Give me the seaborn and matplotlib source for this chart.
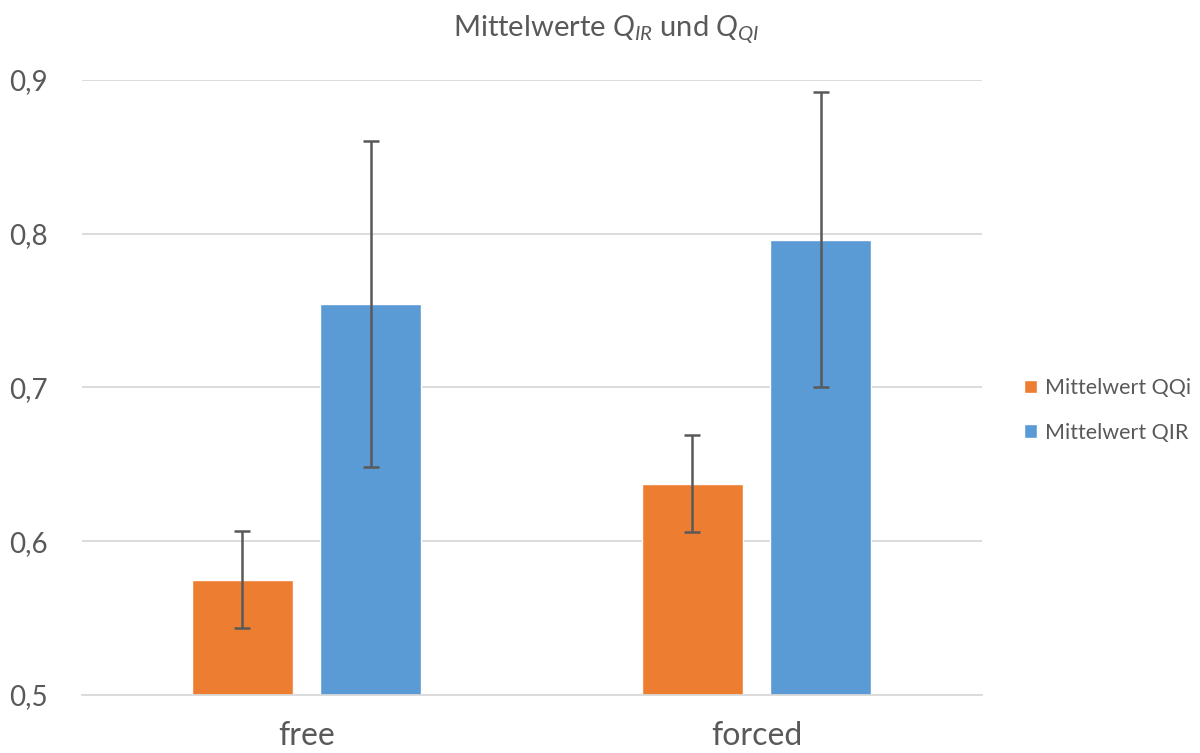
import pandas as pd
import matplotlib
matplotlib.use("Agg")
import matplotlib.pyplot as plt
import seaborn as sns
from matplotlib.ticker import FuncFormatter, FixedLocator

# --- data ---
conditions = ["free", "forced"]
series_names = ["Mittelwert QQi", "Mittelwert QIR"]
mean_qqi = [0.575, 0.6375]
mean_qir = [0.754, 0.796]
err_qqi = [0.0315, 0.0315]
err_qir = [0.106, 0.096]
y_ticks = [0.5, 0.6, 0.7, 0.8, 0.9]

colors = ["#ED7D31", "#5B9BD5"]
text_grey = "#595959"

df = pd.DataFrame({
    "condition": conditions * 2,
    "series": [series_names[0]] * 2 + [series_names[1]] * 2,
    "value": mean_qqi + mean_qir,
    "err": err_qqi + err_qir,
})

sns.set_theme(style="white")
plt.rcParams["font.family"] = ["Lato", "DejaVu Sans"]
plt.rcParams["mathtext.fontset"] = "custom"
plt.rcParams["mathtext.rm"] = "Lato"
plt.rcParams["mathtext.it"] = "Lato:italic"

fig = plt.figure(figsize=(12, 7.53), dpi=100)
ax = fig.add_axes([0.068, 0.077, 0.75, 0.817])

sns.barplot(data=df, x="condition", y="value", hue="series", order=conditions,
            hue_order=series_names, palette=colors, width=0.57, gap=0.21,
            errorbar=None, saturation=1, legend=True, ax=ax)

# error bars at the bar centres seaborn chose
for cont, name in zip(ax.containers, series_names):
    sub = df[df["series"] == name].set_index("condition").loc[conditions]
    xs = [p.get_x() + p.get_width() / 2 for p in cont.patches]
    ax.errorbar(xs, sub["value"], yerr=sub["err"], fmt="none", ecolor=text_grey,
                elinewidth=1.8, capsize=6, capthick=1.8, zorder=3)

ax.set_xlim(-0.5, len(conditions) - 0.5)
ax.set_ylim(0.5, 0.9)
ax.yaxis.set_major_locator(FixedLocator(y_ticks))
ax.yaxis.set_major_formatter(FuncFormatter(lambda v, _: f"{v:.1f}".replace(".", ",")))
ax.grid(axis="y", color="#d9d9d9", linewidth=1.3)
ax.set_axisbelow(True)
for s in ["top", "right", "left"]:
    ax.spines[s].set_visible(False)
ax.spines["bottom"].set_color("#d9d9d9")
ax.spines["bottom"].set_linewidth(1.3)
ax.set_xlabel("")
ax.set_ylabel("")
ax.tick_params(axis="both", length=0, colors=text_grey)
ax.tick_params(axis="x", pad=19, labelsize=23)
ax.tick_params(axis="y", pad=52, labelsize=20)
for lab in ax.get_yticklabels():
    lab.set_horizontalalignment("left")

handles, labels = ax.get_legend_handles_labels()
ax.get_legend().remove()
leg = fig.legend(handles, labels, loc="center left", bbox_to_anchor=(0.837, 0.455),
                 frameon=False, fontsize=15.5, handlelength=0.6, handleheight=0.6,
                 handletextpad=0.4, labelspacing=1.15, labelcolor=text_grey)

fig.text(0.505, 0.96, r"Mittelwerte $Q_{IR}$ und $Q_{QI}$", ha="center", va="center",
         fontsize=21, color=text_grey)

fig.savefig("out.png", dpi=100)
